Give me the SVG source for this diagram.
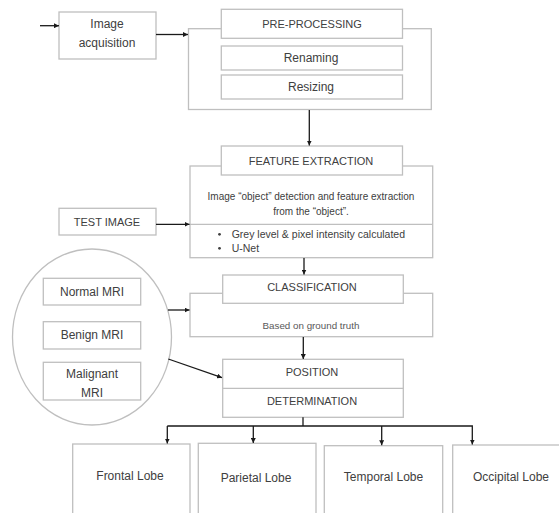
<svg xmlns="http://www.w3.org/2000/svg" width="559" height="513" viewBox="0 0 559 513">
<defs>
<style>
.box{fill:#fff;stroke:#bfbfbf;stroke-width:1.3}
.ol{fill:none;stroke:#bfbfbf;stroke-width:1.3}
.t{font-family:"Liberation Sans",Arial,sans-serif;font-size:12px;fill:#404040;text-anchor:middle}
.c{font-size:11px}
.s{font-size:10px}
.g{font-size:9.8px;fill:#595959}
.ln{fill:none;stroke:#1a1a1a;stroke-width:1.3}
</style>
<marker id="ah" viewBox="0 0 10 10" refX="10" refY="5" markerWidth="5" markerHeight="5" orient="auto" markerUnits="userSpaceOnUse">
<path d="M0,0 L10,5 L0,10 z" fill="#1a1a1a"/>
</marker>
</defs>
<rect width="559" height="513" fill="#fff"/>

<g id="acquisition">
<rect class="box" x="59" y="12" width="97" height="47"/>
<text class="t" x="107" y="28">Image</text>
<text class="t" x="107" y="47">acquisition</text>
</g>

<g id="preprocessing">
<rect class="ol" x="188.5" y="28.7" width="242.8" height="80.8"/>
<rect class="box" x="221.3" y="9.3" width="181.2" height="29"/>
<text class="t c" x="312" y="27.5">PRE-PROCESSING</text>
<rect class="box" x="221.3" y="46" width="181.2" height="24"/>
<text class="t" x="311" y="62">Renaming</text>
<rect class="box" x="221.3" y="75" width="181.2" height="24"/>
<text class="t" x="311" y="91">Resizing</text>
</g>

<g id="test-image">
<rect class="box" x="59" y="208.3" width="97" height="26.7"/>
<text class="t c" x="107" y="225.5">TEST IMAGE</text>
</g>

<g id="feature-extraction">
<rect class="ol" x="190" y="166" width="242.7" height="91.7"/>
<line class="ol" x1="190" y1="224.3" x2="432.7" y2="224.3"/>
<rect class="box" x="221.3" y="146" width="181.2" height="29"/>
<text class="t c" x="311" y="164.5">FEATURE EXTRACTION</text>
<text class="t s" x="311" y="200.3">Image “object” detection and feature extraction</text>
<text class="t s" x="311" y="215.3">from the “object”.</text>
<circle cx="219.5" cy="234.3" r="1.4" fill="#404040"/>
<circle cx="219.5" cy="248.3" r="1.4" fill="#404040"/>
<text class="t s" x="231.7" y="237.8" style="text-anchor:start;font-size:10.5px">Grey level &amp; pixel intensity calculated</text>
<text class="t s" x="231.7" y="251.8" style="text-anchor:start;font-size:10.5px">U-Net</text>
</g>

<g id="classification">
<rect class="ol" x="190" y="293.3" width="242.7" height="43.4"/>
<rect class="box" x="222.7" y="275" width="180.6" height="28.3"/>
<text class="t c" x="312" y="290.7">CLASSIFICATION</text>
<text class="t g" x="311" y="329">Based on ground truth</text>
</g>

<g id="mri-group">
<ellipse class="ol" cx="92" cy="337" rx="79.5" ry="88"/>
<rect class="box" x="43.3" y="278.3" width="97.4" height="26.7"/>
<text class="t" x="92" y="296">Normal MRI</text>
<rect class="box" x="43.3" y="321.7" width="97.4" height="27.3"/>
<text class="t" x="92" y="339.3">Benign MRI</text>
<rect class="box" x="43.3" y="362.3" width="97.4" height="37.7"/>
<text class="t" x="92" y="377.5">Malignant</text>
<text class="t" x="92" y="397">MRI</text>
</g>

<g id="position">
<rect class="box" x="222.7" y="359.3" width="180.6" height="58"/>
<line class="ol" x1="222.7" y1="388.3" x2="403.3" y2="388.3"/>
<text class="t c" x="312" y="376.3">POSITION</text>
<text class="t c" x="312" y="405">DETERMINATION</text>
</g>

<g id="frontal">
<rect class="box" x="72.7" y="444" width="117.3" height="80"/>
<text class="t" x="130" y="479.5">Frontal Lobe</text>
</g>
<g id="parietal">
<rect class="box" x="198.3" y="443.3" width="117.7" height="80"/>
<text class="t" x="256" y="481.5">Parietal Lobe</text>
</g>
<g id="temporal">
<rect class="box" x="324.3" y="445.7" width="118.4" height="80"/>
<text class="t" x="383.5" y="481">Temporal Lobe</text>
</g>
<g id="occipital">
<rect class="box" x="452.7" y="445" width="120" height="80"/>
<text class="t" x="511" y="481">Occipital Lobe</text>
</g>

<g id="connectors">
<line class="ln" x1="40" y1="25.7" x2="59" y2="25.7" marker-end="url(#ah)"/>
<line class="ln" x1="156" y1="34.5" x2="188" y2="34.5" marker-end="url(#ah)"/>
<line class="ln" x1="309.3" y1="110" x2="309.3" y2="145.5" marker-end="url(#ah)"/>
<line class="ln" x1="156" y1="224.3" x2="189.5" y2="224.3" marker-end="url(#ah)"/>
<line class="ln" x1="304" y1="258" x2="304" y2="274.5" marker-end="url(#ah)"/>
<line class="ln" x1="168" y1="310" x2="189.5" y2="310" marker-end="url(#ah)"/>
<line class="ln" x1="168.3" y1="359" x2="222" y2="377.7" marker-end="url(#ah)"/>
<line class="ln" x1="303.3" y1="337" x2="303.3" y2="359" marker-end="url(#ah)"/>
<line class="ln" x1="303" y1="417.3" x2="303" y2="426"/>
<polyline class="ln" points="167.3,426 472.3,426 472.3,444.5" marker-end="url(#ah)"/>
<line class="ln" x1="167.3" y1="426" x2="167.3" y2="443.5" marker-end="url(#ah)"/>
<line class="ln" x1="253.3" y1="426" x2="253.3" y2="443" marker-end="url(#ah)"/>
<line class="ln" x1="381.7" y1="426" x2="381.7" y2="445.2" marker-end="url(#ah)"/>
</g>
</svg>
